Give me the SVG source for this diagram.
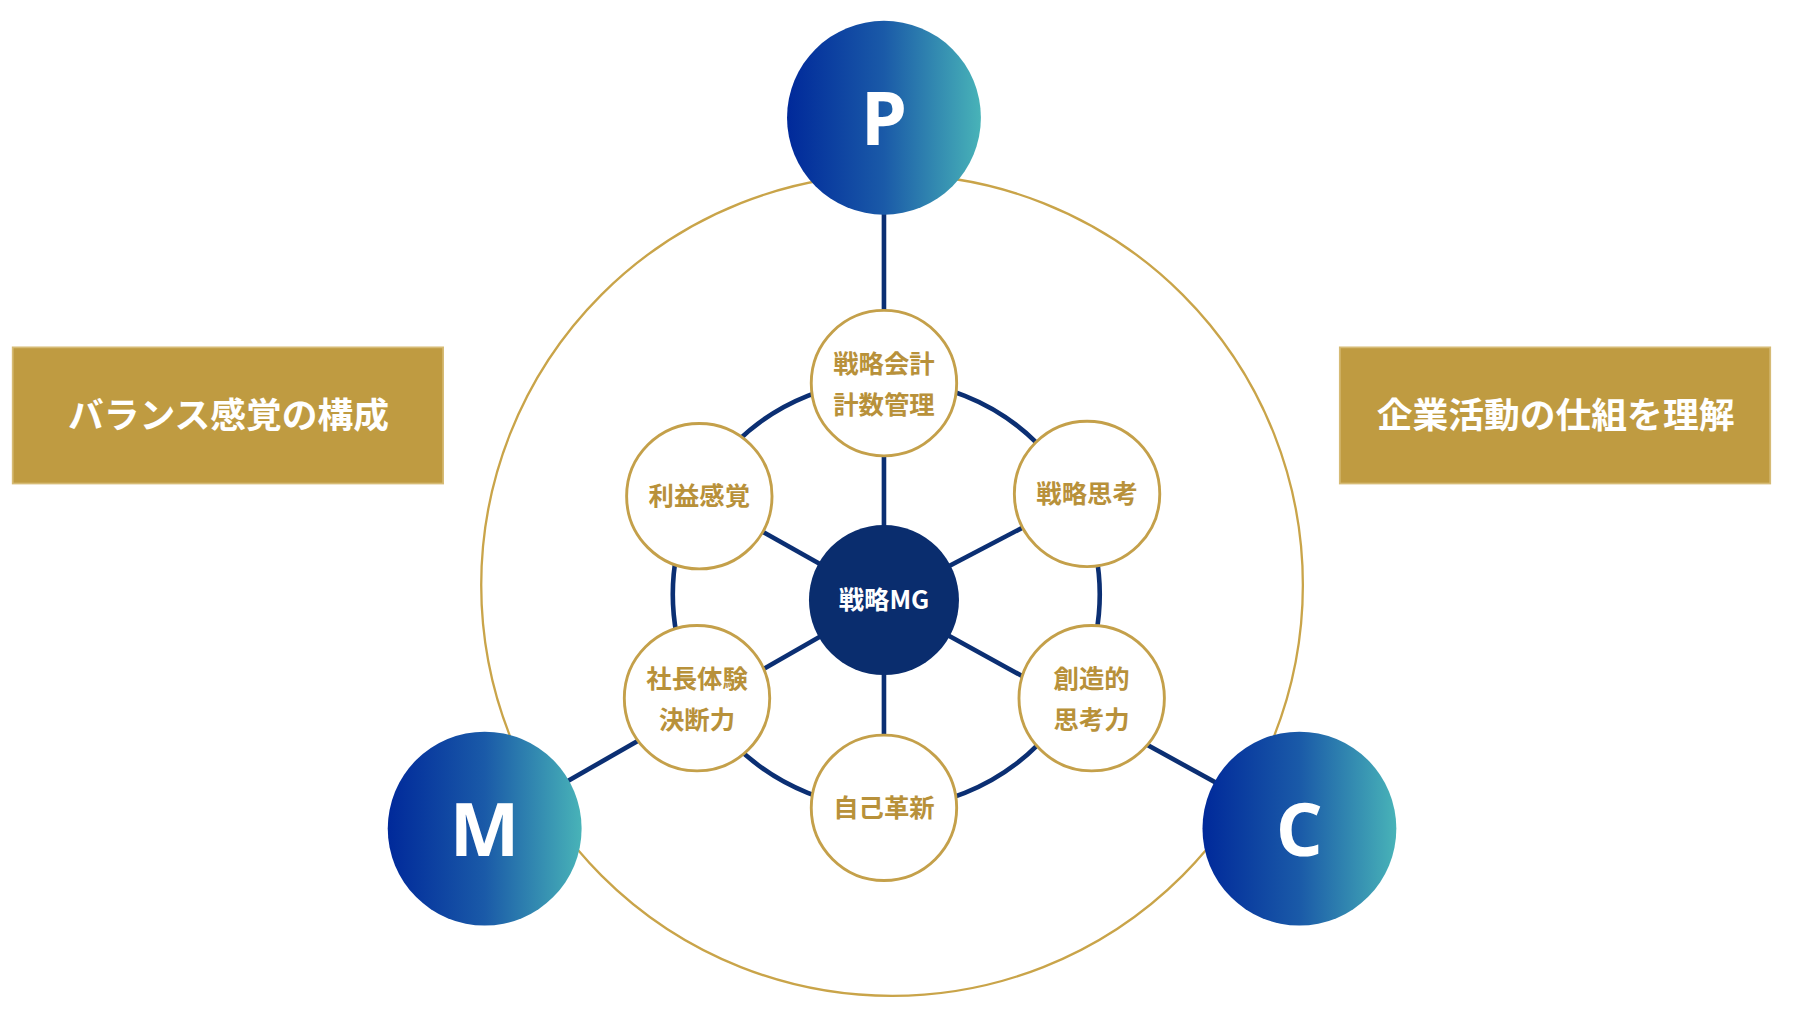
<svg xmlns="http://www.w3.org/2000/svg" width="1809" height="1030" viewBox="0 0 1809 1030">
<defs>
<linearGradient id="g" x1="0" y1="0" x2="1" y2="0"><stop offset="0" stop-color="#00299a"/><stop offset="0.5" stop-color="#1a5aa8"/><stop offset="1" stop-color="#48b3b8"/></linearGradient>
<style>
.box{fill:#bf9b41;stroke:#d6bb75;stroke-width:1.5}
.bt{font-family:"Noto Sans CJK JP",sans-serif;font-weight:700;font-size:31px;fill:#fff;text-anchor:middle}
.sc{fill:#fff;stroke:#c4a04a;stroke-width:2.5}
.st{font-family:"Noto Sans CJK JP",sans-serif;font-weight:700;font-size:22px;fill:#b8913a;text-anchor:middle}
.big{fill:url(#g)}
.bl{font-family:"Open Sans","Noto Sans",sans-serif;font-weight:700;font-size:64px;fill:#fff;text-anchor:middle}
.ln{stroke:#0b2f73;stroke-width:4;fill:none}
</style>
</defs>
<rect width="1809" height="1030" fill="#fff"/>
<g transform="scale(1.154)">
<circle cx="773" cy="507" r="356" fill="none" stroke="#c9a449" stroke-width="2"/>
<g id="connectors">
<circle class="ln" cx="768" cy="515" r="185"/>
<line class="ln" x1="766" y1="102" x2="766" y2="520"/>
<line class="ln" x1="766" y1="520" x2="766" y2="700"/>
<line class="ln" x1="766" y1="520" x2="420" y2="718"/>
<line class="ln" x1="766" y1="520" x2="1126" y2="718"/>
<line class="ln" x1="766" y1="520" x2="606" y2="430"/>
<line class="ln" x1="766" y1="520" x2="942" y2="428"/>
</g>
<g id="left-box"><rect class="box" x="11" y="301" width="373" height="118"/><text class="bt" x="198" y="371">バランス感覚の構成</text></g>
<g id="right-box"><rect class="box" x="1161" y="301" width="373" height="118"/><text class="bt" x="1348" y="371">企業活動の仕組を理解</text></g>
<g id="P"><circle class="big" cx="766" cy="102" r="84"/><text class="bl" x="766" y="126">P</text></g>
<g id="M"><circle class="big" cx="420" cy="718" r="84"/><text class="bl" x="420" y="742">M</text></g>
<g id="C"><circle class="big" cx="1126" cy="718" r="84"/><text class="bl" x="1126" y="742">C</text></g>
<g id="center"><circle cx="766" cy="520" r="65" fill="#0a2d6e"/><text x="766" y="528" font-family="'Noto Sans CJK JP',sans-serif" font-weight="700" font-size="22" fill="#fff" text-anchor="middle">戦略MG</text></g>
<g id="n1"><circle class="sc" cx="766" cy="332" r="63"/><text class="st" x="766" y="323">戦略会計</text><text class="st" x="766" y="359">計数管理</text></g>
<g id="n2"><circle class="sc" cx="606" cy="430" r="63"/><text class="st" x="606" y="438">利益感覚</text></g>
<g id="n3"><circle class="sc" cx="942" cy="428" r="63"/><text class="st" x="942" y="436">戦略思考</text></g>
<g id="n4"><circle class="sc" cx="604" cy="605" r="63"/><text class="st" x="604" y="596">社長体験</text><text class="st" x="604" y="632">決断力</text></g>
<g id="n5"><circle class="sc" cx="946" cy="605" r="63"/><text class="st" x="946" y="596">創造的</text><text class="st" x="946" y="632">思考力</text></g>
<g id="n6"><circle class="sc" cx="766" cy="700" r="63"/><text class="st" x="766" y="708">自己革新</text></g>
</g>
</svg>
